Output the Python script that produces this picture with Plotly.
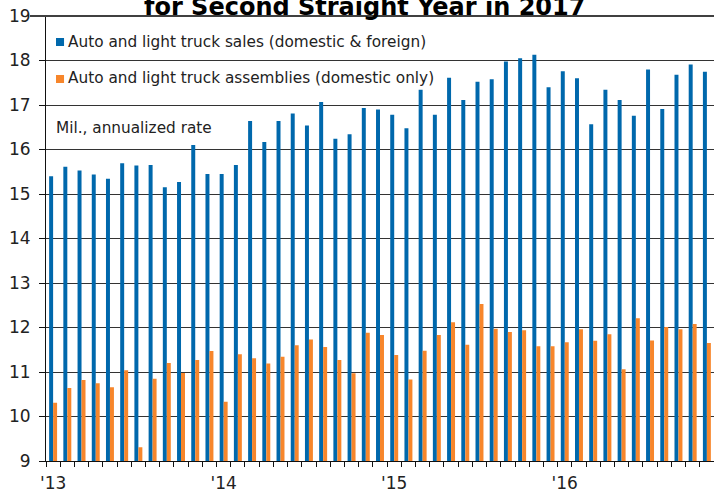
import plotly.graph_objects as go

# Monthly data, Jan 2013 onward (mil., annualized rate)
sales = [15.40, 15.61, 15.53, 15.44, 15.34, 15.69, 15.64, 15.65, 15.15, 15.27, 16.10, 15.45,
         15.45, 15.65, 16.64, 16.17, 16.64, 16.81, 16.54, 17.07, 16.24, 16.34, 16.93, 16.90,
         16.78, 16.48, 17.34, 16.78, 17.61, 17.11, 17.52, 17.58, 17.98, 18.05, 18.13, 17.40,
         17.76, 17.60, 16.57, 17.34, 17.11, 16.76, 17.80, 16.91, 17.68, 17.91, 17.75]
assemblies = [10.31, 10.64, 10.82, 10.75, 10.66, 11.04, 9.31, 10.85, 11.20, 10.98, 11.27, 11.47,
              10.33, 11.40, 11.31, 11.19, 11.34, 11.60, 11.73, 11.56, 11.27, 10.97, 11.88, 11.83,
              11.38, 10.83, 11.48, 11.83, 12.12, 11.61, 12.53, 11.97, 11.90, 11.94, 11.58, 11.58,
              11.67, 11.96, 11.70, 11.85, 11.06, 12.21, 11.71, 12.01, 11.96, 12.08, 11.65]
year_labels = ["'13", "'14", "'15", "'16"]
series_names = ["Auto and light truck sales (domestic & foreign)",
                "Auto and light truck assemblies (domestic only)"]
unit_note = "Mil., annualized rate"
title_text = "for Second Straight Year in 2017"

BLUE = "#0068AC"
ORANGE = "#F7862B"
FONT = "DejaVu Sans"

x = list(range(len(sales)))
year_ticks = [i * 12 for i in range(len(year_labels))]

fig = go.Figure()
fig.add_trace(go.Bar(x=x, y=sales, name=series_names[0], marker_color=BLUE,
                     marker_line_width=0, showlegend=False))
fig.add_trace(go.Bar(x=x, y=assemblies, name=series_names[1], marker_color=ORANGE,
                     marker_line_width=0, showlegend=False))

fig.update_layout(
    width=714, height=493,
    margin=dict(l=46, r=0, t=16, b=32, pad=0),
    paper_bgcolor="white", plot_bgcolor="white",
    barmode="group", bargap=0.44, bargroupgap=0,
    font=dict(family=FONT, color="#222222"),
    xaxis=dict(
        range=[-0.5, len(sales) - 0.5], automargin=False,
        tickmode="array", tickvals=year_ticks, ticktext=year_labels,
        ticks="outside", ticklen=5, tickcolor="rgba(0,0,0,0)",
        ticklabelstandoff=2,
        tickfont=dict(size=17, color="#222222"),
        showgrid=False, zeroline=False,
        showline=True, linecolor="#111111", linewidth=1,
        minor=dict(tick0=-0.5, dtick=1, ticks="outside", ticklen=5,
                   tickcolor="#111111", tickwidth=1, showgrid=False),
    ),
    yaxis=dict(
        range=[9, 19], dtick=1, tick0=9, automargin=False,
        ticks="outside", ticklen=6, tickcolor="#111111",
        ticklabelstandoff=5,
        tickfont=dict(size=17, color="#222222"),
        showgrid=True, gridcolor="#333333", gridwidth=1,
        zeroline=False,
        showline=True, linecolor="#111111", linewidth=1,
    ),
    shapes=[
        dict(type="line", xref="paper", yref="paper", x0=-0.024, x1=1, y0=1, y1=1,
             line=dict(color="#404040", width=2)),
        dict(type="rect", xref="paper", yref="paper", x0=0.015, x1=0.027, y0=0.9326, y1=0.9506,
             fillcolor=BLUE, line_width=0),
        dict(type="rect", xref="paper", yref="paper", x0=0.015, x1=0.027, y0=0.8494, y1=0.8674,
             fillcolor=ORANGE, line_width=0),
    ],
    annotations=[
        dict(text=series_names[0], xref="paper", yref="paper", x=0.0292, y=0.9416,
             xanchor="left", yanchor="middle", showarrow=False,
             font=dict(size=15.3, color="#222222")),
        dict(text=series_names[1], xref="paper", yref="paper", x=0.0292, y=0.8596,
             xanchor="left", yanchor="middle", showarrow=False,
             font=dict(size=15.3, color="#222222")),
        dict(text=unit_note, xref="paper", yref="paper", x=0.012, y=0.748,
             xanchor="left", yanchor="middle", showarrow=False,
             font=dict(size=15.3, color="#222222")),
        dict(text="<b>" + title_text + "</b>", xref="paper", yref="paper", x=0.4775, y=1,
             xanchor="center", yanchor="bottom", yshift=-7, showarrow=False,
             font=dict(size=24, color="#000000")),
    ],
)

fig.write_html("out.html")
